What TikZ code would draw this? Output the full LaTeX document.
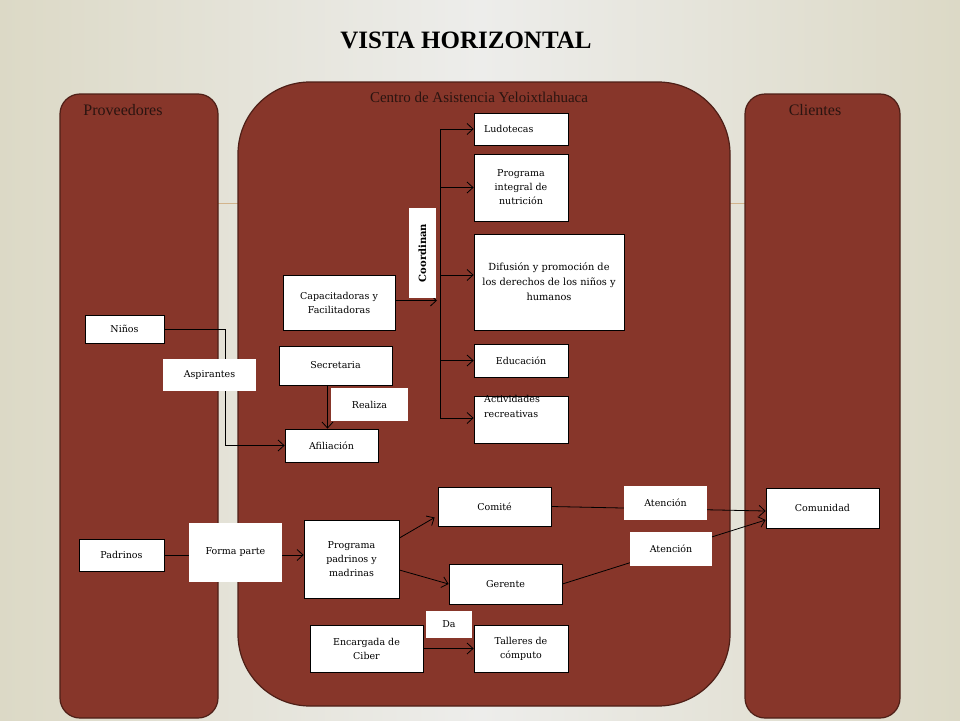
\documentclass[tikz,border=0pt]{standalone}
\usepackage{fontspec}
\setmainfont{DejaVu Serif}
\newfontfamily\titlefont{Liberation Serif}
\usetikzlibrary{arrows.meta}
\definecolor{panelfill}{HTML}{87362A}
\definecolor{paneledge}{HTML}{4E1F17}
\definecolor{paneltext}{HTML}{2A1410}
\definecolor{bgedge}{HTML}{DCD9C6}
\definecolor{bgmid}{HTML}{EDEDEB}
\definecolor{rule}{HTML}{D2B48C}
\tikzset{
  panel/.style={fill=panelfill, draw=paneledge, line width=1.2pt},
  paneltitle/.style={text=paneltext, font=\titlefont\fontsize{15}{17}\selectfont, inner sep=0},
  box/.style={draw=black, fill=white, line width=0.8pt, align=center, inner sep=0,
    font=\fontsize{9.5}{14}\selectfont},
  lbl/.style={fill=white, draw=none, align=center, inner sep=0,
    font=\fontsize{9.5}{14}\selectfont},
  conn/.style={draw=black, line width=0.8pt},
  arr/.style={conn, -{Straight Barb[length=6pt,width=11pt]}}
}
\begin{document}
\begin{tikzpicture}[x=1pt,y=-1pt]
\useasboundingbox (0,0) rectangle (960,720);
\shade[left color=bgedge, right color=bgedge, middle color=bgmid] (0,0) rectangle (960,720);
% faint horizontal rule behind panels
\draw[rule, line width=1pt] (200,203) -- (760,203);
% title
\node[font=\titlefont\bfseries\fontsize{25}{28}\selectfont, inner sep=0] (title) at (466,40) {VISTA HORIZONTAL};
% panels
\draw[panel, rounded corners=20pt] (60,94) rectangle (218,718);
\draw[panel, rounded corners=72pt] (238,82) rectangle (730,706);
\draw[panel, rounded corners=20pt] (745,94) rectangle (900,718);
\node[paneltitle, font=\titlefont\fontsize{16}{18}\selectfont] (prov) at (123,110) {Proveedores};
\node[paneltitle] (centro) at (479,97) {Centro de Asistencia Yeloixtlahuaca};
\node[paneltitle, font=\titlefont\fontsize{16}{18}\selectfont] (cli) at (815,110) {Clientes};
% boxes
\node[box, minimum width=94pt, minimum height=32pt, text width=74pt, align=left] (lud) at (521,129) {Ludotecas};
\node[box, minimum width=94pt, minimum height=67pt] (pin) at (521,187.5) {Programa\\integral de\\nutrición};
\node[box, minimum width=150pt, minimum height=96pt, font=\fontsize{9.8}{15}\selectfont] (dif) at (549,282) {Difusión y promoción de\\los derechos de los niños y\\humanos};
\node[box, minimum width=94pt, minimum height=33pt] (edu) at (521,360.5) {Educación};
\node[box, minimum width=94pt, minimum height=47pt] (act) at (521,419.5) {};
\node[anchor=north west, align=left, inner sep=0, font=\fontsize{9.5}{15}\selectfont] (acttxt) at (484,395) {Actividades\\recreativas};
\node[box, minimum width=112pt, minimum height=55pt] (cap) at (339,302.5) {Capacitadoras y\\Facilitadoras};
\node[box, minimum width=79pt, minimum height=28pt] (ninos) at (124.5,329) {Niños};
\node[box, minimum width=113pt, minimum height=39pt] (sec) at (335.5,365.5) {Secretaria};
\node[box, minimum width=93pt, minimum height=33pt] (afil) at (331.5,445.5) {Afiliación};
\node[box, minimum width=85pt, minimum height=32pt] (padr) at (121.5,555) {Padrinos};
\node[box, minimum width=95pt, minimum height=78pt] (prog) at (351.5,559) {Programa\\padrinos y\\madrinas};
\node[box, minimum width=113pt, minimum height=39pt] (com) at (494.5,506.5) {Comité};
\node[box, minimum width=113pt, minimum height=40pt] (ger) at (505.5,584) {Gerente};
\node[box, minimum width=113pt, minimum height=40pt] (comu) at (822.5,508) {Comunidad};
\node[box, minimum width=113pt, minimum height=47pt] (enc) at (366.5,648.5) {Encargada de\\Ciber};
\node[box, minimum width=94pt, minimum height=47pt] (tal) at (521,648.5) {Talleres de\\cómputo};
% trunk for Coordinan
\coordinate (ttop) at (440,129);
\coordinate (tbot) at (440,418);
\draw[conn] (ttop) -- (tbot);
\draw[arr] (ttop) -- (lud.west);
\draw[arr] (ttop |- pin.west) -- (pin.west);
\draw[arr] ([yshift=7pt]ttop |- dif.west) -- ([yshift=7pt]dif.west);
\draw[arr] (ttop |- edu.west) -- (edu.west);
\draw[arr] (tbot) -- (tbot -| act.west);
\draw[arr] ([yshift=2pt]cap.east) -- ([yshift=2pt,xshift=-3pt]cap.east -| ttop);
% Niños -> Afiliación
\coordinate (nbend) at (225,445.5);
\draw[arr] (ninos.east) -| (nbend) -- (afil.west);
% Secretaria -> Afiliación
\draw[arr] ([xshift=-8pt]sec.south) -- ([xshift=-4pt]afil.north);
% Padrinos -> Programa
\draw[arr] (padr.east) -- (padr.east -| prog.west);
% Programa -> Comité / Gerente
\draw[arr] ([yshift=21pt]prog.east) -- ([yshift=-11pt,xshift=-3pt]com.west);
\draw[arr] ([yshift=-11pt]prog.east) -- (ger.west);
% to Comunidad
\draw[arr] (com.east) -- ([yshift=-3pt]comu.west);
\draw[arr] (ger.east) -- ([yshift=-12pt]comu.west);
% Encargada -> Talleres
\draw[arr] (enc.east) -- (tal.west);
% labels on connectors
\node[lbl, minimum width=27pt, minimum height=90pt] (coord) at (422.5,253) {\rotatebox{90}{\bfseries\fontsize{10}{12}\selectfont Coordinan}};
\node[lbl, minimum width=93pt, minimum height=32pt] (asp) at (209.5,375) {Aspirantes};
\node[lbl, minimum width=77pt, minimum height=33pt] (real) at (369.5,404.5) {Realiza};
\node[lbl, minimum width=93pt, minimum height=59pt] (forma) at (235.5,552.5) {Forma parte};
\node[lbl, minimum width=83pt, minimum height=34pt] (at1) at (665.5,503) {Atención};
\node[lbl, minimum width=82pt, minimum height=34pt] (at2) at (671,549) {Atención};
\node[lbl, minimum width=46pt, minimum height=27pt] (da) at (449,624.5) {Da};
\end{tikzpicture}
\end{document}
